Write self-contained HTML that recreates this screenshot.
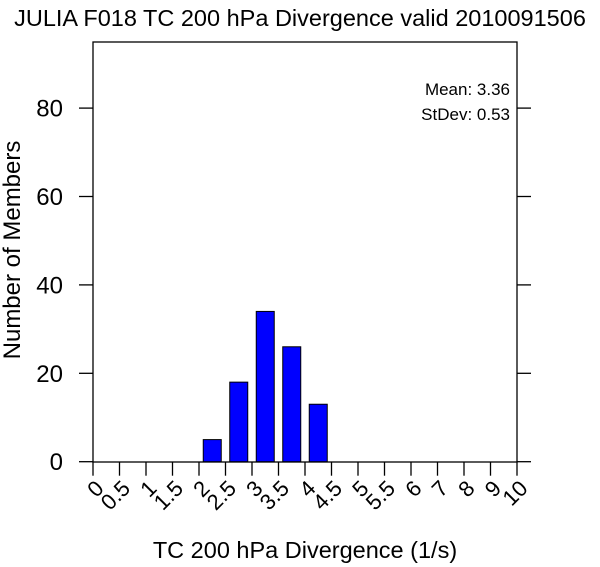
<!DOCTYPE html>
<html><head><meta charset="utf-8"><style>
html,body{margin:0;padding:0;background:#fff;}
svg{display:block;font-family:"Liberation Sans",Arial,sans-serif;}
</style></head><body>
<svg id="chart" width="600" height="567" viewBox="0 0 600 567">
<text x="300" y="26" text-anchor="middle" font-size="23.5">JULIA F018 TC 200 hPa Divergence valid 2010091506</text>
<rect x="93" y="42" width="424" height="420" fill="none" stroke="#000" stroke-width="1.3"/>
<text x="510" y="95" text-anchor="end" font-size="17">Mean: 3.36</text>
<text x="510" y="120" text-anchor="end" font-size="17">StDev: 0.53</text>
<text transform="translate(20,250) rotate(-90)" text-anchor="middle" font-size="24">Number of Members</text>
<text x="305" y="558" text-anchor="middle" font-size="23.5">TC 200 hPa Divergence (1/s)</text>
<g id="axes"></g>
<g id="bars"></g>
</svg>
<script>
const xTickLabels = ["0","0.5","1","1.5","2","2.5","3","3.5","4","4.5","5","5.5","6","7","8","9","10"];
const binIndex = [4,5,6,7,8];
const counts = [5,18,34,26,13];
const yTicks = [0,20,40,60,80];

const NS = "http://www.w3.org/2000/svg";
const x0 = 93, x1 = 517, yBase = 461.7, pxPerUnit = 88.4/20;
const step = (x1 - x0) / (xTickLabels.length - 1);
function xPos(i){ return x0 + i*step; }
function yPos(v){ return yBase - v*pxPerUnit; }
const axes = document.getElementById('axes');
const bars = document.getElementById('bars');
function mk(tag, attrs){ const e=document.createElementNS(NS,tag); for(const k in attrs) e.setAttribute(k,attrs[k]); return e; }

xTickLabels.forEach((lab,i)=>{
  const x = xPos(i);
  const t = mk('line',{x1:x,y1:yBase,x2:x,y2:yBase+14,stroke:'#000','stroke-width':1.3});
  
  
  axes.appendChild(t);
  const tx = mk('text',{transform:`translate(${x+12},${yBase+28}) rotate(-45)`,'text-anchor':'end','font-size':22});
  tx.textContent = lab;
  
  
  axes.appendChild(tx);
});
yTicks.forEach(v=>{
  const y = yPos(v);
  const l = mk('line',{x1:79,y1:y,x2:93,y2:y,stroke:'#000','stroke-width':1.3});
  
  
  axes.appendChild(l);
  const r = mk('line',{x1:517,y1:y,x2:531,y2:y,stroke:'#000','stroke-width':1.3});
  
  
  axes.appendChild(r);
  const tx = mk('text',{x:63,y:y+8.5,'text-anchor':'end','font-size':24});
  tx.textContent = v;
  
  
  axes.appendChild(tx);
});
counts.forEach((c,k)=>{
  const cx = xPos(binIndex[k]) + step/2;
  const w = 18;
  const b = mk('rect',{x:cx-w/2,y:yPos(c),width:w,height:yBase-yPos(c),fill:'#0000ff',stroke:'#000','stroke-width':1});
  
  
  bars.appendChild(b);
});
</script>
</body></html>
